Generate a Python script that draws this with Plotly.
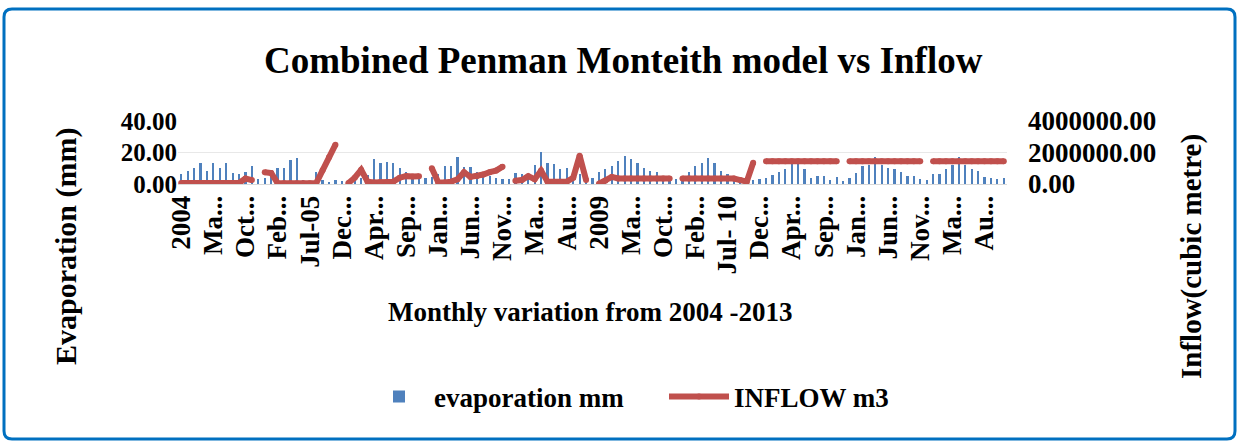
import plotly.graph_objects as go

# ---------------------------------------------------------------
# data
# ---------------------------------------------------------------
evaporation_mm = [
    6.1, 8.3, 10.4, 13.3, 8.3, 13.3, 10.4, 13.3, 7.2, 6.1,
    7.5, 11.2, 3.0, 3.8, 6.5, 10.2, 10.2, 15.3, 16.4, 2.5,
    2.0, 7.8, 2.5, 1.5, 2.5, 2.0, 2.2, 3.0, 4.0, 6.0,
    15.6, 13.6, 14.2, 13.6, 10.2, 7.5, 5.0, 4.0, 3.5, 4.5,
    6.5, 11.4, 11.4, 17.3, 11.0, 11.0, 7.8, 7.5, 5.0, 4.0,
    3.0, 3.0, 7.2, 6.1, 5.5, 12.0, 20.5, 13.6, 12.5, 9.8,
    10.4, 5.7, 6.5, 5.0, 4.0, 7.4, 9.5, 11.4, 14.6, 17.8,
    15.7, 13.6, 10.4, 8.3, 7.4, 5.0, 4.0, 3.0, 3.0, 7.4,
    11.4, 13.6, 16.7, 13.1, 8.3, 6.1, 5.0, 3.0, 3.0, 2.5,
    3.2, 4.0, 5.7, 7.8, 9.5, 12.5, 12.5, 9.5, 4.0, 5.0,
    5.0, 2.5, 4.7, 2.0, 4.0, 7.2, 11.4, 12.0, 17.4, 12.0,
    10.0, 9.3, 7.8, 5.3, 5.3, 3.0, 2.5, 6.1, 6.1, 9.3,
    12.0, 17.4, 12.0, 9.3, 8.3, 4.7, 4.0, 3.2, 4.0,
]

inflow_m3 = [
    60000, 60000, 60000, 60000, 60000, 60000, 60000, 60000, 60000, 60000,
    350000, 250000, None, 750000, 700000, 50000, 50000, 50000, 50000, 50000,
    50000, 50000, 870000, 1700000, 2500000, None, 50000, 400000, 900000, 150000,
    100000, 120000, 100000, 150000, 400000, 500000, 480000, 500000, None, 1000000,
    100000, 100000, 150000, 300000, 750000, 450000, 500000, 600000, 750000, 850000,
    1100000, None, 200000, 250000, 500000, 300000, 850000, 150000, 150000, 150000,
    150000, 400000, 1800000, 250000, None, 20000, 200000, 450000, 350000, 350000,
    350000, 350000, 350000, 350000, 350000, 350000, 350000, None, 350000, 350000,
    350000, 350000, 350000, 350000, 350000, 350000, 350000, 250000, 150000, 1350000,
    None, 1450000, 1450000, 1450000, 1450000, 1450000, 1450000, 1450000, 1450000, 1450000,
    1450000, 1450000, 1450000, None, 1450000, 1450000, 1450000, 1450000, 1450000, 1450000,
    1450000, 1450000, 1450000, 1450000, 1450000, 1450000, None, 1450000, 1450000, 1450000,
    1450000, 1450000, 1450000, 1450000, 1450000, 1450000, 1450000, 1450000, 1450000,
]

month_idx = list(range(len(evaporation_mm)))

# every 5th category gets a label (Excel truncates most of them with dots)
tick_idx = list(range(0, 126, 5))
tick_labels = [
    "2004", "Ma...", "Oct...", "Feb...", "Jul-05", "Dec...", "Apr...",
    "Sep...", "Jan...", "Jun...", "Nov...", "Ma...", "Au...", "2009",
    "Ma...", "Oct...", "Feb...", "Jul- 10", "Dec...", "Apr...",
    "Sep...", "Jan...", "Jun...", "Nov...", "Ma...", "Au...",
]

# ---------------------------------------------------------------
# figure
# ---------------------------------------------------------------
FONT = "Liberation Serif, Times New Roman, serif"
W, H = 1239, 443
L, R, T, B = 178, 232, 121, 259
PW = W - L - R
PH = H - T - B


def px_x(x):
    return (x - L) / PW


def px_y(y):
    return (H - B - y) / PH


def bold(size):
    return dict(size=size, family=FONT, color="black", weight="bold")


fig = go.Figure()

fig.add_trace(go.Bar(
    x=month_idx,
    y=evaporation_mm,
    name="evaporation mm",
    marker=dict(color="#4F81BD", line=dict(width=0)),
    width=0.35,
    yaxis="y",
))

# markers the size of the stroke give the round caps Excel draws
fig.add_trace(go.Scatter(
    x=month_idx,
    y=inflow_m3,
    name="INFLOW m3",
    mode="lines+markers",
    line=dict(color="#C0504D", width=6),
    marker=dict(color="#C0504D", size=6, line=dict(width=0)),
    connectgaps=False,
    yaxis="y2",
))

fig.update_layout(
    width=W,
    height=H,
    margin=dict(l=L, r=R, t=T, b=B),
    paper_bgcolor="white",
    plot_bgcolor="white",
    font=dict(family=FONT, color="black"),
    title=dict(
        text="<b>Combined Penman Monteith model vs Inflow</b>",
        font=bold(37),
        x=0.503, xanchor="center",
        y=1 - 60 / H, yanchor="middle",
    ),
    xaxis=dict(
        range=[-0.5, len(evaporation_mm) - 0.5],
        tickvals=tick_idx,
        ticktext=tick_labels,
        tickangle=-90,
        tickfont=bold(27),
        showgrid=False,
        showline=True,
        linecolor="#d9d9d9",
        linewidth=1,
        ticks="",
        zeroline=False,
    ),
    yaxis=dict(
        range=[0, 40],
        tickvals=[0, 20, 40],
        tickformat=".2f",
        tickfont=bold(25),
        showgrid=True,
        gridcolor="#e8e8e8",
        zeroline=False,
        ticks="",
    ),
    yaxis2=dict(
        range=[0, 4000000],
        tickvals=[0, 2000000, 4000000],
        tickformat=".2f",
        tickfont=bold(27),
        ticklabelstandoff=20,
        overlaying="y",
        side="right",
        showgrid=False,
        zeroline=False,
        ticks="",
    ),
    bargap=0,
    showlegend=True,
    legend=dict(
        orientation="h",
        xref="container", yref="container",
        x=364 / W, xanchor="left",
        y=1 - 397 / H, yanchor="middle",
        font=bold(27),
        itemwidth=60,
        entrywidth=225,
        bgcolor="rgba(0,0,0,0)",
    ),
)

# axis titles as annotations (they sit well outside the tiny plot area)
fig.add_annotation(
    text="<b>Monthly variation from 2004 -2013</b>",
    xref="paper", yref="paper",
    x=px_x(590), y=px_y(312),
    xanchor="center", yanchor="middle",
    showarrow=False,
    font=bold(27),
)
fig.add_annotation(
    text="<b>Evaporation (mm)</b>",
    xref="paper", yref="paper",
    x=px_x(66), y=px_y(247),
    xanchor="center", yanchor="middle",
    textangle=-90,
    showarrow=False,
    font=bold(30),
)
fig.add_annotation(
    text="<b>Inflow(cubic metre)</b>",
    xref="paper", yref="paper",
    x=px_x(1191), y=px_y(257),
    xanchor="center", yanchor="middle",
    textangle=-90,
    showarrow=False,
    font=bold(29),
)

# blue chart-area border with slightly rounded corners
x0, x1 = px_x(4), px_x(1235)
y0, y1 = px_y(439), px_y(9)
rx, ry = 8 / PW, 8 / PH
border = (
    f"M {x0 + rx},{y1} L {x1 - rx},{y1} Q {x1},{y1} {x1},{y1 - ry} "
    f"L {x1},{y0 + ry} Q {x1},{y0} {x1 - rx},{y0} "
    f"L {x0 + rx},{y0} Q {x0},{y0} {x0},{y0 + ry} "
    f"L {x0},{y1 - ry} Q {x0},{y1} {x0 + rx},{y1} Z"
)
fig.add_shape(
    type="path",
    xref="paper", yref="paper",
    path=border,
    line=dict(color="#0070C0", width=3),
    fillcolor="rgba(0,0,0,0)",
)

# the page's default 8px body margin would shift the fixed-size figure
fig.write_html(
    "out.html",
    config={"displayModeBar": False},
    post_script="document.body.style.margin='0';",
)
